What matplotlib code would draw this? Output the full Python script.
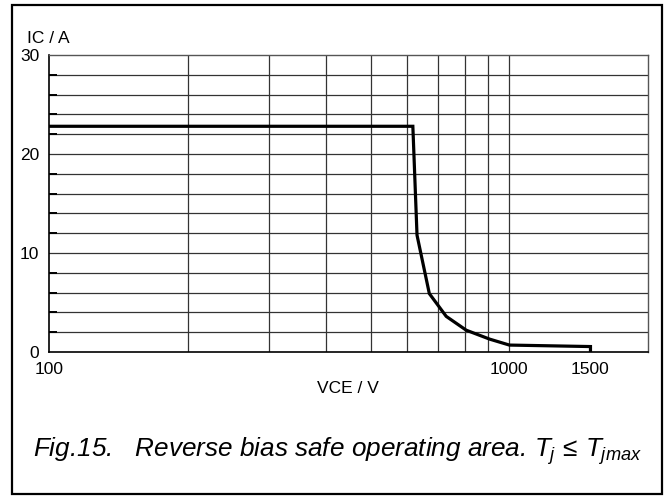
import matplotlib
matplotlib.use("Agg")
import matplotlib.pyplot as plt
from matplotlib.patches import Rectangle
import numpy as np

plt.rcParams['font.family'] = ['Liberation Sans', 'DejaVu Sans']
plt.rcParams['mathtext.fontset'] = 'custom'
plt.rcParams['mathtext.rm'] = 'Liberation Sans'
plt.rcParams['mathtext.it'] = 'Liberation Sans:italic'

# RBSOA curve
vce = [100, 617, 630, 670, 729, 806, 906, 1000, 1500, 1500]
ic = [22.8, 22.8, 11.8, 5.9, 3.6, 2.2, 1.3, 0.7, 0.55, 0]

x_grid = [200, 300, 400, 500, 600, 700, 800, 900, 1000]
y_grid = np.arange(2, 30, 2)
x_ticks = [100, 1000, 1500]
x_ticklabels = ['100', '1000', '1500']
y_ticks = [0, 10, 20, 30]
y_ticklabels = ['0', '10', '20', '30']

W, H = 667, 497
fig = plt.figure(figsize=(W / 100, H / 100), dpi=100)

# outer frame
fig.patches.append(Rectangle((12 / W, 1 - 494 / H), 650 / W, 489 / H,
                             transform=fig.transFigure, fill=False,
                             edgecolor='black', linewidth=1.6))

ax = fig.add_axes([49 / W, 1 - 352 / H, 599 / W, 297 / H])
ax.set_xscale('log')
ax.set_xlim(100, 2000)
ax.set_ylim(0, 30)

for v in x_grid:
    ax.axvline(v, color='#333333', linewidth=0.9, zorder=1)
for v in y_grid:
    ax.axhline(v, color='#333333', linewidth=0.9, zorder=1)

ax.plot(vce, ic, color='black', linewidth=2.3, solid_joinstyle='miter', zorder=3)

ax.set_xticks(x_ticks)
ax.set_xticklabels(x_ticklabels)
ax.xaxis.set_minor_locator(matplotlib.ticker.NullLocator())
ax.set_yticks(y_ticks)
ax.set_yticklabels(y_ticklabels)
ax.set_yticks(y_grid, minor=True)
ax.tick_params(axis='x', which='major', length=0, pad=7, labelsize=12.5)
ax.tick_params(axis='y', which='major', length=0, pad=7, labelsize=12.5)
ax.tick_params(axis='y', which='minor', direction='in', length=6, width=1.4, color='black')

for s in ['left', 'bottom']:
    ax.spines[s].set_color('black')
    ax.spines[s].set_linewidth(1.2)
for s in ['top', 'right']:
    ax.spines[s].set_color('#555555')
    ax.spines[s].set_linewidth(1.0)

fig.text(27 / W, 1 - 43 / H, 'IC / A', fontsize=12.5, ha='left', va='baseline')
fig.text(348 / W, 1 - 393 / H, 'VCE / V', fontsize=12.5, ha='center', va='baseline')

fig.text(33 / W, 1 - 457 / H,
         r'Fig.15.   Reverse bias safe operating area. $T_j\,\leq\,T_{jmax}$',
         fontsize=18.8, style='italic', ha='left', va='baseline')

fig.savefig('out.png', dpi=100)
